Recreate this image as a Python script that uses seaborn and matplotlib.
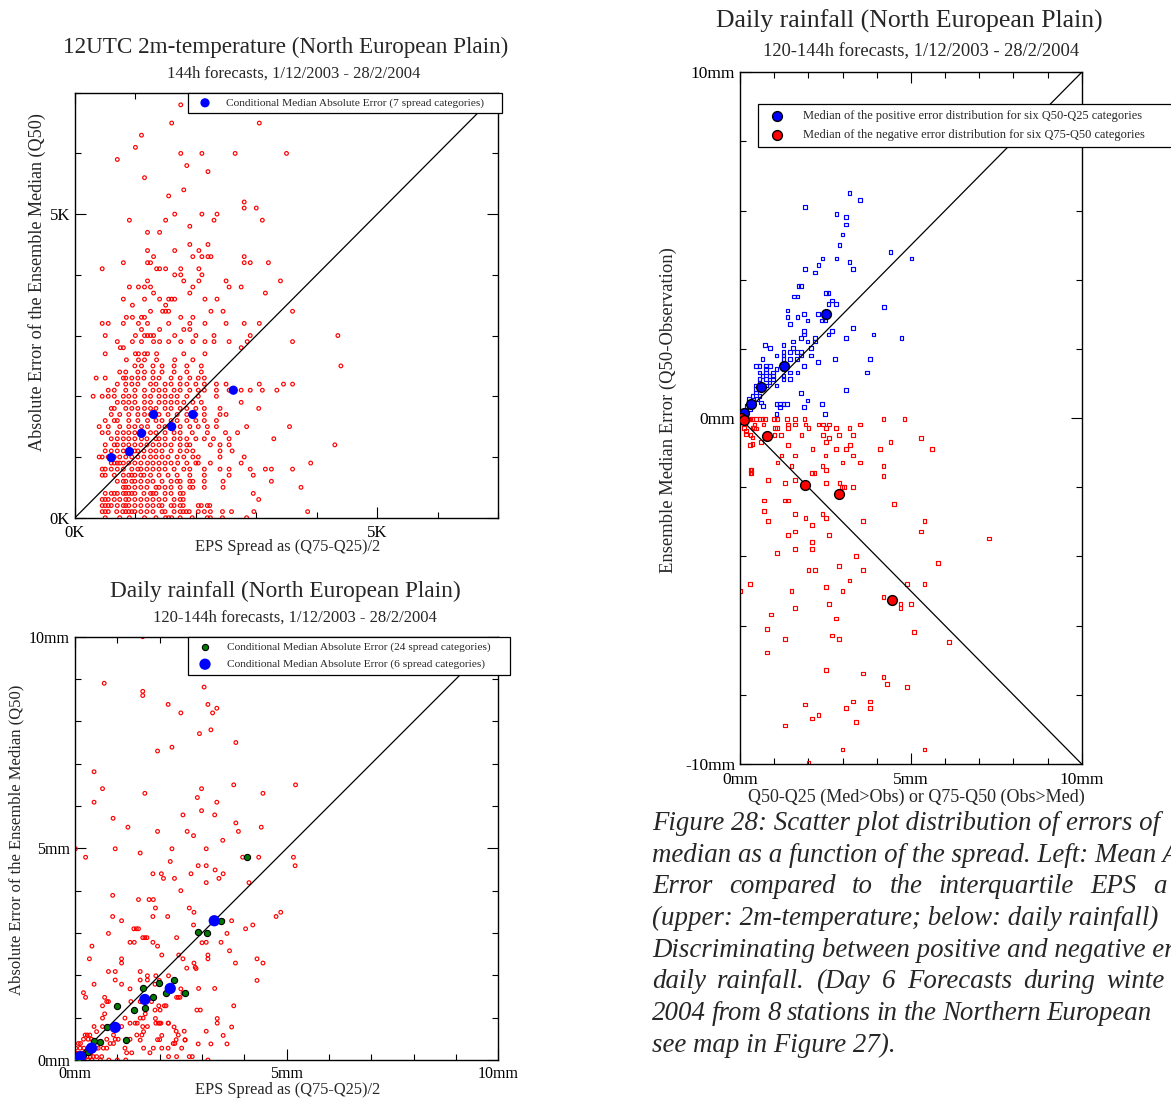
import matplotlib
matplotlib.use("Agg")
import matplotlib.pyplot as plt
from matplotlib.ticker import MultipleLocator, FixedLocator, FuncFormatter
import pandas as pd
import seaborn as sns

W, H = 1171, 1099

# ---------------- Panel 1: 12UTC 2m-temperature (K) ----------------
# rows of (absolute error of Q50, [EPS spread values])
T2M_ROWS = [
    (0.0, [0.50, 0.74, 0.90, 1.15, 1.34, 1.50, 1.55, 1.60, 1.74, 1.94, 2.19, 2.24, 2.44, 2.84]),
    (0.1, [0.45, 0.50, 0.55, 0.69, 0.79, 0.84, 0.89, 0.94, 0.99, 1.09, 1.19, 1.29, 1.44, 1.49, 1.64, 1.74, 1.79, 1.84, 1.89, 2.04, 2.14, 2.24, 2.44, 2.59, 2.96, 3.85]),
    (0.2, [0.45, 0.50, 0.55, 0.60, 0.70, 0.80, 0.84, 0.89, 0.99, 1.09, 1.20, 1.29, 1.39, 1.44, 1.59, 1.64, 1.74, 1.79, 2.04, 2.09, 2.19, 2.23]),
    (0.3, [0.45, 0.50, 0.55, 0.65, 0.74, 0.84, 0.89, 0.99, 1.09, 1.19, 1.29, 1.39, 1.49, 1.64, 1.74, 1.79, 3.04]),
    (0.4, [0.50, 0.60, 0.65, 0.70, 0.80, 0.84, 0.89, 0.94, 0.99, 1.14, 1.25, 1.29, 1.34, 1.49, 1.59, 1.74, 1.79, 2.95]),
    (0.5, [0.80, 0.84, 0.89, 0.99, 1.09, 1.19, 1.34, 1.39, 1.49, 1.59, 1.74, 1.90, 1.95, 2.14, 2.45, 3.74]),
    (0.6, [0.70, 0.80, 0.84, 0.94, 0.99, 1.09, 1.20, 1.29, 1.44, 1.59, 1.69, 1.74, 1.90, 1.95, 2.14, 2.45, 3.25]),
    (0.7, [0.45, 0.50, 0.65, 0.80, 0.89, 0.94, 0.99, 1.09, 1.14, 1.25, 1.39, 1.54, 1.69, 1.90, 2.14, 2.55, 2.95]),
    (0.8, [0.45, 0.50, 0.60, 0.70, 0.80, 0.94, 1.04, 1.09, 1.19, 1.29, 1.39, 1.49, 1.64, 1.80, 1.90, 2.14, 2.40, 2.55, 2.90, 3.15, 3.25, 3.60]),
    (0.9, [0.60, 0.65, 0.70, 0.74, 0.80, 0.89, 0.99, 1.09, 1.20, 1.29, 1.39, 1.49, 1.59, 1.70, 1.85, 2.00, 2.04, 2.24, 2.75, 3.90]),
    (1.0, [0.40, 0.45, 0.55, 0.65, 0.74, 0.84, 0.94, 1.04, 1.14, 1.25, 1.34, 1.44, 1.54, 1.69, 1.80, 1.95, 2.04, 2.40, 2.80]),
    (1.1, [0.50, 0.60, 0.70, 0.80, 0.99, 1.04, 1.14, 1.25, 1.34, 1.44, 1.59, 1.74, 1.85, 1.95, 2.40, 2.60]),
    (1.2, [0.50, 0.65, 0.70, 0.80, 0.89, 0.99, 1.09, 1.19, 1.29, 1.39, 1.49, 1.59, 1.74, 1.85, 1.90, 2.24, 2.40, 2.55, 4.30]),
    (1.3, [0.60, 0.70, 0.80, 0.89, 0.99, 1.10, 1.19, 1.34, 1.39, 1.49, 1.64, 1.74, 1.85, 2.00, 2.14, 2.29, 2.55, 3.29]),
    (1.4, [0.45, 0.55, 0.70, 0.80, 0.89, 0.99, 1.14, 1.25, 1.34, 1.49, 1.64, 1.74, 1.94, 2.19, 2.49, 2.69]),
    (1.5, [0.40, 0.55, 0.74, 0.89, 0.99, 1.10, 1.20, 1.39, 1.49, 1.59, 1.74, 1.90, 2.04, 2.19, 2.34, 2.84, 3.55]),
    (1.6, [0.50, 0.65, 0.70, 0.89, 1.04, 1.20, 1.34, 1.44, 1.59, 1.69, 1.85, 2.00, 2.14, 2.34]),
    (1.7, [0.60, 0.74, 0.89, 1.04, 1.15, 1.25, 1.39, 1.54, 1.69, 1.85, 2.00, 2.14, 2.40, 2.50]),
    (1.8, [0.60, 0.65, 0.84, 0.94, 1.04, 1.15, 1.25, 1.34, 1.49, 1.59, 1.74, 1.85, 2.00, 2.14, 2.40, 3.04]),
    (1.9, [0.70, 0.80, 0.89, 0.99, 1.15, 1.25, 1.39, 1.49, 1.59, 1.69, 1.80, 1.95, 2.09, 2.75]),
    (2.0, [0.30, 0.45, 0.55, 0.65, 0.80, 0.89, 0.99, 1.15, 1.25, 1.39, 1.49, 1.59, 1.69, 1.85, 2.04, 2.34]),
    (2.1, [0.55, 0.65, 0.84, 0.99, 1.15, 1.29, 1.39, 1.49, 1.64, 1.74, 1.90, 2.04, 2.14, 2.34, 2.55, 2.75, 2.90, 3.10, 3.34]),
    (2.2, [0.70, 0.84, 0.94, 1.04, 1.25, 1.34, 1.49, 1.59, 1.74, 1.85, 2.00, 2.14, 2.34, 2.50, 3.05, 3.45, 3.60]),
    (2.3, [0.35, 0.50, 0.80, 0.84, 0.94, 1.04, 1.14, 1.29, 1.39, 1.59, 1.74, 1.90, 2.04, 2.14]),
    (2.4, [0.74, 0.84, 1.04, 1.15, 1.29, 1.44, 1.64, 1.85, 2.09]),
    (2.5, [0.99, 1.10, 1.29, 1.44, 1.64, 1.85, 2.09, 4.40]),
    (2.6, [0.85, 1.05, 1.15, 1.35, 1.65, 1.95]),
    (2.7, [0.50, 1.00, 1.05, 1.15, 1.20, 1.35, 1.80, 2.15]),
    (2.8, [0.75, 0.80, 2.75]),
    (2.9, [0.70, 0.95, 1.10, 1.30, 1.40, 1.55, 1.75, 1.95, 2.15, 2.30, 2.55, 2.85, 3.60]),
    (3.0, [0.50, 1.00, 1.15, 1.20, 1.25, 1.30, 1.65, 2.00, 2.30, 2.90, 4.35]),
    (3.1, [1.10, 1.40, 1.80, 1.90]),
    (3.2, [0.45, 0.55, 0.80, 1.05, 1.20, 1.55, 1.90, 2.15, 2.50, 2.80, 3.05]),
    (3.3, [0.85, 0.95, 1.10, 1.15, 1.75, 1.95]),
    (3.4, [1.25, 1.45, 1.50, 1.55, 2.25, 2.45, 3.60]),
    (3.5, [0.95, 1.50]),
    (3.6, [0.80, 1.15, 1.40, 1.55, 1.60, 1.65, 2.15, 2.35]),
    (3.7, [1.30, 1.90, 3.15]),
    (3.8, [0.90, 1.05, 1.15, 1.25, 1.95, 2.55, 2.75]),
    (3.9, [1.20, 1.80, 2.05, 2.50, 3.40]),
    (4.0, [1.65, 1.75, 2.10]),
    (4.1, [0.45, 1.35, 1.40, 1.50, 1.75, 2.05]),
    (4.2, [0.80, 1.20, 1.25, 2.80, 2.90, 3.20]),
    (4.3, [1.30, 1.95, 2.10, 2.20, 2.25, 2.80]),
    (4.4, [1.20, 1.65, 2.05]),
    (4.5, [1.90, 2.20]),
    (4.7, [1.20, 1.40]),
    (4.8, [1.90]),
    (4.9, [0.90, 1.50, 2.30, 3.10]),
    (5.0, [1.65, 2.10, 2.35]),
    (5.1, [2.80, 3.00]),
    (5.2, [2.80]),
    (5.3, [1.55]),
    (5.4, [1.80]),
    (5.6, [1.15]),
    (5.7, [2.20]),
    (5.8, [1.85]),
    (5.9, [0.70]),
    (6.0, [1.75, 2.10, 2.65, 3.50]),
    (6.1, [1.00]),
    (6.3, [1.10]),
    (6.5, [1.60, 3.05]),
    (6.8, [1.75]),
]
T2M_CAT_SPREAD = [0.60, 0.90, 1.10, 1.30, 1.60, 1.95, 2.62]
T2M_CAT_ERR = [0.99, 1.09, 1.39, 1.70, 1.50, 1.70, 2.10]

# ---------------- Panel 2: daily rainfall, absolute error (mm) ----------------
RR_POINTS = [
    (1.60, 10.0), (0.69, 8.90), (1.60, 8.71), (1.60, 8.61), (3.05, 8.81), (2.20, 8.40), (3.14, 8.40),
    (2.50, 8.20), (3.25, 8.20), (3.35, 8.31), (2.94, 7.71), (3.21, 7.80), (3.80, 7.50), (1.95, 7.30),
    (2.29, 7.39), (0.45, 6.81), (0.65, 6.41), (0.45, 6.09), (1.65, 6.30), (2.99, 6.41), (2.89, 6.20),
    (3.35, 6.09), (3.75, 6.50), (4.44, 6.30), (5.21, 6.50), (0.90, 5.71), (1.25, 5.50), (2.55, 5.79),
    (2.99, 5.89), (3.30, 5.79), (3.80, 5.60), (4.40, 5.50),
    (1.95, 5.40), (2.65, 5.40), (2.80, 5.30), (3.86, 5.40), (0.01, 4.99), (0.95, 4.99), (2.29, 4.99),
    (3.10, 4.99), (3.49, 5.19), (0.25, 4.79), (1.54, 4.89), (2.25, 4.69), (2.91, 4.59), (3.10, 4.59),
    (3.31, 4.49), (4.34, 4.79), (5.16, 4.79), (5.20, 4.59), (3.96, 4.79), (4.11, 4.19), (1.84, 4.40),
    (2.04, 4.40), (2.09, 4.29), (2.35, 4.29), (2.74, 4.40), (3.10, 4.19), (3.40, 4.29), (3.50, 4.40),
    (2.50, 4.00), (0.89, 3.89), (1.50, 3.79), (1.75, 3.79), (1.85, 3.79), (1.84, 3.39), (1.90, 3.59),
    (2.19, 3.39), (2.70, 3.59), (2.81, 3.49), (0.89, 3.39), (1.10, 3.29), (1.39, 3.10), (1.45, 3.10),
    (1.50, 3.10), (1.60, 2.89), (1.65, 2.89), (1.70, 2.89), (0.79, 2.99), (1.30, 2.78), (1.40, 2.78),
    (1.84, 2.78), (1.95, 2.69), (2.40, 2.89), (2.80, 3.19), (3.00, 2.77), (3.10, 2.78), (3.45, 2.78),
    (3.59, 2.99), (3.49, 3.29), (3.70, 3.29), (4.03, 3.10), (4.20, 3.19), (4.75, 3.39), (4.86, 3.49),
    (0.40, 2.69), (0.34, 2.39), (1.10, 2.39), (1.10, 2.29), (2.05, 2.48), (2.45, 2.48), (2.55, 2.39),
    (3.14, 2.48), (3.14, 2.39), (3.65, 2.58), (3.79, 2.29), (4.30, 2.39), (4.44, 2.29), (2.81, 2.29),
    (2.84, 2.19), (4.30, 1.88), (3.30, 1.69), (3.75, 1.28), (2.92, 1.69), (2.88, 1.18), (2.96, 1.18),
    (3.36, 0.98), (3.36, 0.87), (3.70, 0.78), (3.10, 0.68), (3.50, 0.58), (3.21, 0.38), (3.59, 0.38),
    (2.91, 0.38), (2.77, 0.08), (2.70, 0.08), (3.14, 0.0), (2.58, 0.68), (2.39, 0.68), (2.34, 0.78),
    (2.20, 0.87), (2.00, 0.87), (1.90, 0.98), (2.05, 0.58), (1.95, 0.48), (2.00, 0.48), (2.39, 0.48),
    (2.60, 0.48), (2.20, 0.28),
    (0.20, 1.59), (0.25, 1.48), (0.45, 1.79), (0.70, 1.48), (0.75, 1.38), (0.79, 1.38), (0.65, 1.28),
    (0.95, 2.09), (0.95, 1.89), (0.79, 2.09), (1.10, 1.79), (1.30, 1.68), (1.54, 2.09), (1.54, 1.89),
    (1.71, 1.89), (1.71, 1.99), (1.32, 1.38), (1.54, 1.38), (1.91, 1.99), (1.99, 1.88), (1.89, 1.79),
    (2.21, 1.99), (2.40, 1.48), (2.44, 1.48), (2.48, 1.48), (2.64, 2.17), (2.86, 2.16), (2.50, 1.68),
    (2.55, 1.58), (1.98, 1.28), (1.81, 1.38), (2.11, 1.28), (2.15, 1.28), (2.01, 1.18), (1.89, 1.18),
    (1.54, 0.99), (1.61, 0.99), (1.66, 1.09), (1.91, 0.87), (1.97, 0.87), (2.21, 0.87), (2.03, 0.87),
    (1.60, 0.79), (1.71, 0.79), (1.30, 0.87), (1.42, 0.87), (1.47, 0.87), (1.18, 0.99), (1.10, 0.79),
    (0.70, 1.09), (0.65, 0.99), (0.65, 0.79), (0.51, 0.67), (0.45, 0.79), (0.35, 0.59), (0.29, 0.59),
    (0.24, 0.59), (0.39, 0.49), (0.31, 0.49), (0.20, 0.49), (0.13, 0.39), (0.08, 0.39), (0.75, 0.49),
    (0.83, 0.39), (0.91, 0.39), (0.67, 0.28), (0.75, 0.28), (1.02, 0.49), (0.95, 0.49), (0.91, 0.59),
    (1.18, 0.28), (1.22, 0.17), (1.34, 0.17), (1.62, 0.28), (1.77, 0.17), (1.85, 0.28), (2.05, 0.28),
    (2.21, 0.08), (2.40, 0.08), (2.32, 0.39), (2.36, 0.39), (2.44, 0.59), (2.60, 0.47), (2.52, 0.28),
    (1.54, 0.47), (1.58, 0.59), (1.62, 0.67), (1.30, 0.49), (1.46, 0.59),
    (0.02, 0.16), (0.08, 0.16), (0.13, 0.16), (0.20, 0.16), (0.26, 0.16), (0.32, 0.16), (0.37, 0.16),
    (0.02, 0.08), (0.08, 0.08), (0.13, 0.08), (0.20, 0.08), (0.28, 0.08), (0.36, 0.08), (0.43, 0.08),
    (0.51, 0.08), (0.63, 0.08), (0.02, 0.28), (0.12, 0.28), (0.21, 0.28), (0.31, 0.28), (0.43, 0.28),
    (0.50, 0.28), (0.55, 0.28), (0.00, 0.00), (0.05, 0.00), (0.10, 0.00), (0.20, 0.00), (0.30, 0.00),
    (0.40, 0.00), (0.60, 0.00), (0.80, 0.00), (1.00, 0.00), (1.20, 0.00),
]
RR24_SPREAD = [0.02, 0.05, 0.10, 0.15, 0.20, 0.30, 0.35, 0.45, 0.59, 0.75, 0.99, 1.20,
               1.39, 1.65, 1.60, 1.85, 1.99, 2.15, 2.34, 2.60, 2.90, 3.13, 3.44, 4.07]
RR24_ERR = [0.00, 0.02, 0.05, 0.10, 0.12, 0.20, 0.30, 0.44, 0.42, 0.79, 1.28, 0.47,
            1.18, 1.23, 1.69, 1.48, 1.83, 1.58, 1.88, 1.58, 3.03, 2.99, 3.29, 4.79]
RR6_SPREAD = [0.13, 0.39, 0.95, 1.65, 2.25, 3.29]
RR6_ERR = [0.08, 0.28, 0.77, 1.43, 1.69, 3.29]

# ---------------- Panel 3: signed error vs half-spread (mm) ----------------
POS_POINTS = [
    (3.20, 6.51), (3.51, 6.30), (1.90, 6.11), (2.82, 5.91), (3.10, 5.81), (3.10, 5.60), (3.00, 5.31),
    (2.91, 5.01), (4.40, 4.81), (5.02, 4.62), (2.41, 4.62), (2.82, 4.62), (3.20, 4.51), (2.30, 4.42),
    (1.90, 4.31), (2.20, 4.21), (3.30, 4.31), (1.71, 3.82), (1.59, 3.52), (2.51, 3.61),
    (1.78, 3.83), (1.68, 3.52), (2.59, 3.62), (2.70, 3.40), (2.59, 3.31), (2.81, 3.31), (4.22, 3.21),
    (1.39, 3.11), (1.39, 2.92), (1.68, 2.92), (1.87, 3.02), (2.28, 3.02), (1.47, 2.72), (1.98, 2.82),
    (2.39, 2.82), (2.49, 2.82), (3.31, 2.61), (2.70, 2.52), (2.59, 2.42), (1.87, 2.52), (1.87, 2.42),
    (1.78, 2.31), (1.98, 2.22), (2.19, 2.31), (2.19, 2.22), (3.10, 2.31), (3.91, 2.42), (4.73, 2.31),
    (1.56, 2.22), (1.27, 2.11), (1.56, 2.02), (2.08, 2.02), (0.74, 2.11), (0.88, 2.02), (1.27, 1.91),
    (1.46, 1.91), (1.66, 1.91), (1.78, 1.91), (1.78, 1.81), (1.07, 1.81), (1.27, 1.81), (2.08, 1.81),
    (1.66, 1.72), (1.27, 1.72), (1.46, 1.72), (0.66, 1.72), (2.79, 1.72), (3.81, 1.72), (2.28, 1.62),
    (1.87, 1.51), (0.47, 1.51), (0.57, 1.51), (0.76, 1.51), (0.88, 1.51), (1.07, 1.42), (1.27, 1.42),
    (1.46, 1.32), (1.68, 1.32), (0.76, 1.42), (0.76, 1.32), (0.57, 1.32), (0.66, 1.22), (0.86, 1.22),
    (0.96, 1.32), (0.96, 1.22), (0.57, 1.13), (0.76, 1.13), (1.27, 1.22), (1.27, 1.13), (1.46, 1.13),
    (0.96, 1.13), (0.86, 1.03), (0.57, 1.03), (0.47, 0.94), (0.66, 0.94), (0.76, 0.94), (1.07, 0.94),
    (3.71, 1.32), (3.10, 0.82), (1.78, 0.72), (2.39, 0.41), (1.87, 0.32), (1.98, 0.51), (1.27, 0.41),
    (1.17, 0.41), (1.07, 0.41), (1.37, 0.41), (1.17, 0.32), (1.07, 0.12), (2.49, 0.12), (0.68, 0.36),
    (0.61, 0.45), (0.47, 0.84), (0.47, 0.74), (0.37, 0.65), (0.27, 0.55), (0.57, 0.65), (0.37, 0.45),
    (0.20, 0.36), (0.29, 0.26), (0.18, 0.16), (0.49, 0.55), (0.10, 0.05), (0.05, 0.10), (0.15, 0.20),
]
# rows of (signed error, [half-spread values]) for negative errors
NEG_ROWS = [
    (-0.02, [0.05, 0.12, 0.18, 0.25, 0.31, 0.37, 0.47, 0.57, 0.66, 0.73, 1.00, 1.09, 1.37, 1.60, 1.89, 4.20, 4.81]),
    (-0.18, [0.42, 0.69, 1.40, 1.60, 1.92, 2.30, 2.42, 2.61, 3.51]),
    (-0.29, [0.12, 0.41, 1.02, 1.09, 1.40, 2.00, 2.51, 2.81, 3.20]),
    (-0.37, [0.18]), (-0.46, [0.18]), (-0.27, [0.37]), (-0.56, [0.37]), (-0.75, [0.37]), (-0.30, [0.47]),
    (-0.48, [0.31, 1.01, 1.20, 1.80, 2.43, 2.89, 3.30]),
    (-0.58, [2.60, 5.30]),
    (-0.68, [0.61, 2.51, 4.40]),
    (-0.77, [0.30, 1.40, 3.21]),
    (-0.89, [2.12, 2.81, 3.10, 4.10, 5.61]),
    (-1.08, [1.21, 1.60, 2.50, 3.30]),
    (-1.28, [1.10, 3.00, 3.51]),
    (-1.38, [1.51, 2.41, 4.20]),
    (-1.49, [0.31, 0.34, 2.51]),
    (-1.58, [0.31, 0.34, 2.10, 2.18]),
    (-1.68, [4.20]),
    (-1.78, [0.81, 1.60]),
    (-1.88, [1.31, 2.51, 2.91]),
    (-1.99, [2.98, 3.04, 3.30]),
    (-2.38, [0.70, 1.31, 1.40]),
    (-2.48, [4.51]),
    (-2.68, [0.70]),
    (-2.78, [1.61, 2.41]),
    (-2.88, [1.92, 2.51]),
    (-2.98, [0.81, 3.60, 5.40]),
    (-3.09, [2.11]),
    (-3.28, [1.61, 5.30]),
    (-3.38, [1.41, 2.60]),
    (-3.48, [7.29]),
    (-3.59, [2.11]),
    (-3.79, [1.61, 2.11]),
    (-3.89, [1.09]),
    (-3.98, [3.40]),
    (-4.19, [5.80]),
    (-4.28, [2.90]),
    (-4.39, [2.00, 2.20, 3.60]),
    (-4.69, [3.20]),
    (-4.79, [0.30, 4.89, 5.40]),
    (-4.89, [2.51]),
    (-4.99, [0.00, 1.51, 3.00]),
    (-5.18, [4.20]),
    (-5.38, [2.60, 4.70, 5.00]),
    (-5.49, [1.61, 4.70]),
    (-5.68, [0.91]),
    (-5.79, [2.81]),
    (-6.09, [0.80]),
    (-6.19, [5.09]),
    (-6.28, [2.70]),
    (-6.38, [1.31, 2.90]),
    (-6.48, [6.11]),
    (-6.78, [0.80]),
    (-7.28, [2.51]),
    (-7.38, [3.60]),
    (-7.48, [4.20]),
    (-7.69, [4.30]),
    (-7.78, [4.89]),
    (-8.19, [3.30, 3.80]),
    (-8.28, [1.90]),
    (-8.39, [3.10, 3.80]),
    (-8.58, [2.30]),
    (-8.68, [2.11]),
    (-8.78, [3.40]),
    (-8.89, [1.31]),
    (-9.58, [3.00, 5.40]),
    (-9.98, [2.00]),
]
POS_MED_X = [0.03, 0.11, 0.31, 0.60, 1.29, 2.52]
POS_MED_Y = [0.03, 0.135, 0.42, 0.91, 1.51, 3.02]
NEG_MED_X = [0.02, 0.11, 0.80, 1.90, 2.91, 4.44]
NEG_MED_Y = [-0.01, -0.06, -0.53, -1.94, -2.19, -5.27]

# ---------------- tables ----------------
t2m_df = pd.DataFrame({"spread": [x for y, xs in T2M_ROWS for x in xs],
                       "abserr": [y for y, xs in T2M_ROWS for x in xs]})
t2m_cat = pd.DataFrame({"spread": T2M_CAT_SPREAD, "abserr": T2M_CAT_ERR})
rr_df = pd.DataFrame(RR_POINTS, columns=["spread", "abserr"])
rr24 = pd.DataFrame({"spread": RR24_SPREAD, "abserr": RR24_ERR})
rr6 = pd.DataFrame({"spread": RR6_SPREAD, "abserr": RR6_ERR})
pos_df = pd.DataFrame(POS_POINTS, columns=["half", "err"])
neg_df = pd.DataFrame({"half": [x for y, xs in NEG_ROWS for x in xs],
                       "err": [y for y, xs in NEG_ROWS for x in xs]})
pos_med = pd.DataFrame({"half": POS_MED_X, "err": POS_MED_Y})
neg_med = pd.DataFrame({"half": NEG_MED_X, "err": NEG_MED_Y})

# ---------------- figure ----------------
sns.set_style("ticks")
plt.rcParams["font.family"] = ["Liberation Serif", "DejaVu Serif"]

fig = plt.figure(figsize=(W / 100, H / 100), dpi=100)
fig.patch.set_facecolor("white")

RECT1 = (75, 92.7, 498, 517.7)
RECT2 = (75, 636.7, 498.3, 1060)
RECT3 = (740, 72.3, 1081.7, 764)


def add_axes(r):
    x0, y0, x1, y1 = r
    return fig.add_axes([x0 / W, 1 - y1 / H, (x1 - x0) / W, (y1 - y0) / H])


def fx(x):
    return x / W


def fy(y):
    return 1 - y / H


ax1 = add_axes(RECT1)
ax2 = add_axes(RECT2)
ax3 = add_axes(RECT3)

RED, BLUE, GREEN = "#ff0000", "#0000ff", "#007a00"

# panel 1
sns.scatterplot(data=t2m_df, x="spread", y="abserr", ax=ax1, marker="o", s=7, color=RED,
                facecolor="none", edgecolor=RED, linewidth=0.85, legend=False, zorder=2)
sns.scatterplot(data=t2m_cat, x="spread", y="abserr", ax=ax1, marker="o", s=44, color=BLUE,
                edgecolor="none", linewidth=0, zorder=4,
                label="Conditional Median Absolute Error (7 spread categories)")
ax1.axline((0, 0), slope=1, color="black", lw=0.9, zorder=3)

# panel 2
sns.scatterplot(data=rr_df, x="spread", y="abserr", ax=ax2, marker="o", s=7, color=RED,
                facecolor="none", edgecolor=RED, linewidth=0.85, legend=False, zorder=2)
ax2.axline((0, 0), slope=1, color="black", lw=0.9, zorder=3)
sns.scatterplot(data=rr24, x="spread", y="abserr", ax=ax2, marker="o", s=20, color=GREEN,
                edgecolor="black", linewidth=0.8, zorder=4,
                label="Conditional Median Absolute Error (24 spread categories)")
sns.scatterplot(data=rr6, x="spread", y="abserr", ax=ax2, marker="o", s=66, color=BLUE,
                edgecolor="none", linewidth=0, zorder=5,
                label="Conditional Median Absolute Error (6 spread categories)")

# panel 3
sns.scatterplot(data=pos_df, x="half", y="err", ax=ax3, marker="s", s=7, color=BLUE,
                facecolor="none", edgecolor=BLUE, linewidth=0.85, legend=False, zorder=2)
sns.scatterplot(data=neg_df, x="half", y="err", ax=ax3, marker="s", s=7, color=RED,
                facecolor="none", edgecolor=RED, linewidth=0.85, legend=False, zorder=2)
ax3.axline((0, 0), slope=1, color="black", lw=0.9, zorder=3)
ax3.axline((0, 0), slope=-1, color="black", lw=0.9, zorder=3)
sns.scatterplot(data=pos_med, x="half", y="err", ax=ax3, marker="o", s=50, color=BLUE,
                edgecolor="black", linewidth=1.0, zorder=4,
                label="Median of the positive error distribution for six Q50-Q25 categories")
sns.scatterplot(data=neg_med, x="half", y="err", ax=ax3, marker="o", s=50, color=RED,
                edgecolor="black", linewidth=1.0, zorder=5,
                label="Median of the negative error distribution for six Q75-Q50 categories")


def style(ax, xlim, ylim, xmaj, xmin, ymaj, ymin, unit, tsize, xpad):
    ax.set_xlim(*xlim)
    ax.set_ylim(*ylim)
    ax.xaxis.set_major_locator(FixedLocator(xmaj))
    ax.xaxis.set_minor_locator(MultipleLocator(xmin))
    ax.yaxis.set_major_locator(FixedLocator(ymaj))
    ax.yaxis.set_minor_locator(MultipleLocator(ymin))
    f = FuncFormatter(lambda v, p: f"{v:g}{unit}")
    ax.xaxis.set_major_formatter(f)
    ax.yaxis.set_major_formatter(f)
    ax.tick_params(which="both", direction="in", top=True, right=True,
                   labelsize=tsize, colors="black")
    ax.tick_params(axis="y", which="both", pad=3.5)
    ax.tick_params(axis="x", which="both", pad=xpad)
    ax.tick_params(which="major", length=8, width=0.8)
    ax.tick_params(which="minor", length=4, width=0.8)
    ax.set_facecolor("white")
    for s in ax.spines.values():
        s.set_visible(True)
        s.set_linewidth(1.0)
        s.set_color("black")


style(ax1, (0, 7), (0, 7), [0, 5], 1, [0, 5], 1, "K", 12, 5)
style(ax2, (0, 10), (0, 10), [0, 5, 10], 1, [0, 5, 10], 1, "mm", 11.5, 4)
style(ax3, (0, 10), (-10, 10), [0, 5, 10], 1, [-10, 0, 10], 2, "mm", 12.5, 6)


def set_labels(ax, rect, xlabel, xpos, ylabel, ypos, size_x, size_y):
    x0, y0, x1, y1 = rect
    ax.set_xlabel(xlabel, fontsize=size_x, va="center", ha="center")
    ax.set_ylabel(ylabel, fontsize=size_y, va="center", ha="center")
    ax.xaxis.set_label_coords((xpos[0] - x0) / (x1 - x0), (y1 - xpos[1]) / (y1 - y0))
    ax.yaxis.set_label_coords((ypos[0] - x0) / (x1 - x0), (y1 - ypos[1]) / (y1 - y0))


set_labels(ax1, RECT1, "EPS Spread as (Q75-Q25)/2", (288, 547),
           "Absolute Error of the Ensemble Median (Q50)", (37, 282.5), 11.8, 13.1)
set_labels(ax2, RECT2, "EPS Spread as (Q75-Q25)/2", (288, 1090),
           "Absolute Error of the Ensemble Median (Q50)", (16, 840), 11.8, 12.0)
set_labels(ax3, RECT3, "Q50-Q25 (Med>Obs) or Q75-Q50 (Obs>Med)", (916.5, 797),
           "Ensemble Median Error (Q50-Observation)", (668, 410.5), 13, 13.45)


def legend(ax, x0, y0, x1, size, spacing, hl, htp):
    leg = ax.legend(loc="upper left", bbox_to_anchor=(fx(x0), fy(y0) - 0.1, fx(x1) - fx(x0), 0.1),
                    bbox_transform=fig.transFigure, mode="expand", borderaxespad=0,
                    fontsize=size, frameon=True, fancybox=False, framealpha=1, edgecolor="black",
                    scatterpoints=1, handlelength=hl, handletextpad=htp, borderpad=0.45,
                    labelspacing=spacing)
    leg.get_frame().set_linewidth(0.9)
    leg.set_zorder(10)
    return leg


legend(ax1, 187.7, 92.7, 501.7, 8.2, 0.4, 2.14, 0.8)
legend(ax2, 187.7, 636.7, 510, 8.2, 0.63, 2.14, 0.9)
legend(ax3, 758.3, 104.3, 1185, 8.9, 0.6, 2.1, 1.03)

# titles
fig.text(fx(286), fy(47), "12UTC 2m-temperature (North European Plain)", fontsize=16.7,
         ha="center", va="center")
fig.text(fx(294), fy(74), "144h forecasts, 1/12/2003 - 28/2/2004", fontsize=12,
         ha="center", va="center")
fig.text(fx(285), fy(591), "Daily rainfall (North European Plain)", fontsize=16.8,
         ha="center", va="center")
fig.text(fx(295), fy(618), "120-144h forecasts, 1/12/2003 - 28/2/2004", fontsize=12,
         ha="center", va="center")
fig.text(fx(909), fy(21), "Daily rainfall (North European Plain)", fontsize=18.5,
         ha="center", va="center")
fig.text(fx(921), fy(52), "120-144h forecasts, 1/12/2003 - 28/2/2004", fontsize=13.3,
         ha="center", va="center")

# caption (italic; some lines justified; the page crop cuts it at the right edge)
CAPTION = [
    "Figure 28: Scatter plot distribution of errors of",
    "median as a function of the spread. Left: Mean A",
    "Error compared to the interquartile EPS a",
    "(upper: 2m-temperature; below: daily rainfall)",
    "Discriminating between positive and negative er",
    "daily rainfall. (Day 6 Forecasts during winte",
    "2004 from 8 stations in the Northern European",
    "see map in Figure 27).",
]
# justified lines: left edge (px) where the last visible word starts
JUSTIFY_LAST = {2: 1153.3, 5: 1106.7, 6: 1046.7}
CAP_SIZE = 19.4
renderer = fig.canvas.get_renderer()
for i, line in enumerate(CAPTION):
    yb = 830 + 31.7 * i
    if i in JUSTIFY_LAST:
        words = line.split(" ")
        texts = [fig.text(0, fy(yb), w, fontsize=CAP_SIZE, style="italic", ha="left",
                          va="baseline") for w in words]
        widths = [t.get_window_extent(renderer).width for t in texts]
        gap = (JUSTIFY_LAST[i] - 652 - sum(widths[:-1])) / (len(words) - 1)
        x = 652
        for t, wd in zip(texts, widths):
            t.set_x(fx(x))
            x += wd + gap
    else:
        fig.text(fx(652), fy(yb), line, fontsize=CAP_SIZE, style="italic", ha="left", va="baseline")

fig.savefig("out.png", dpi=100, facecolor="white")
